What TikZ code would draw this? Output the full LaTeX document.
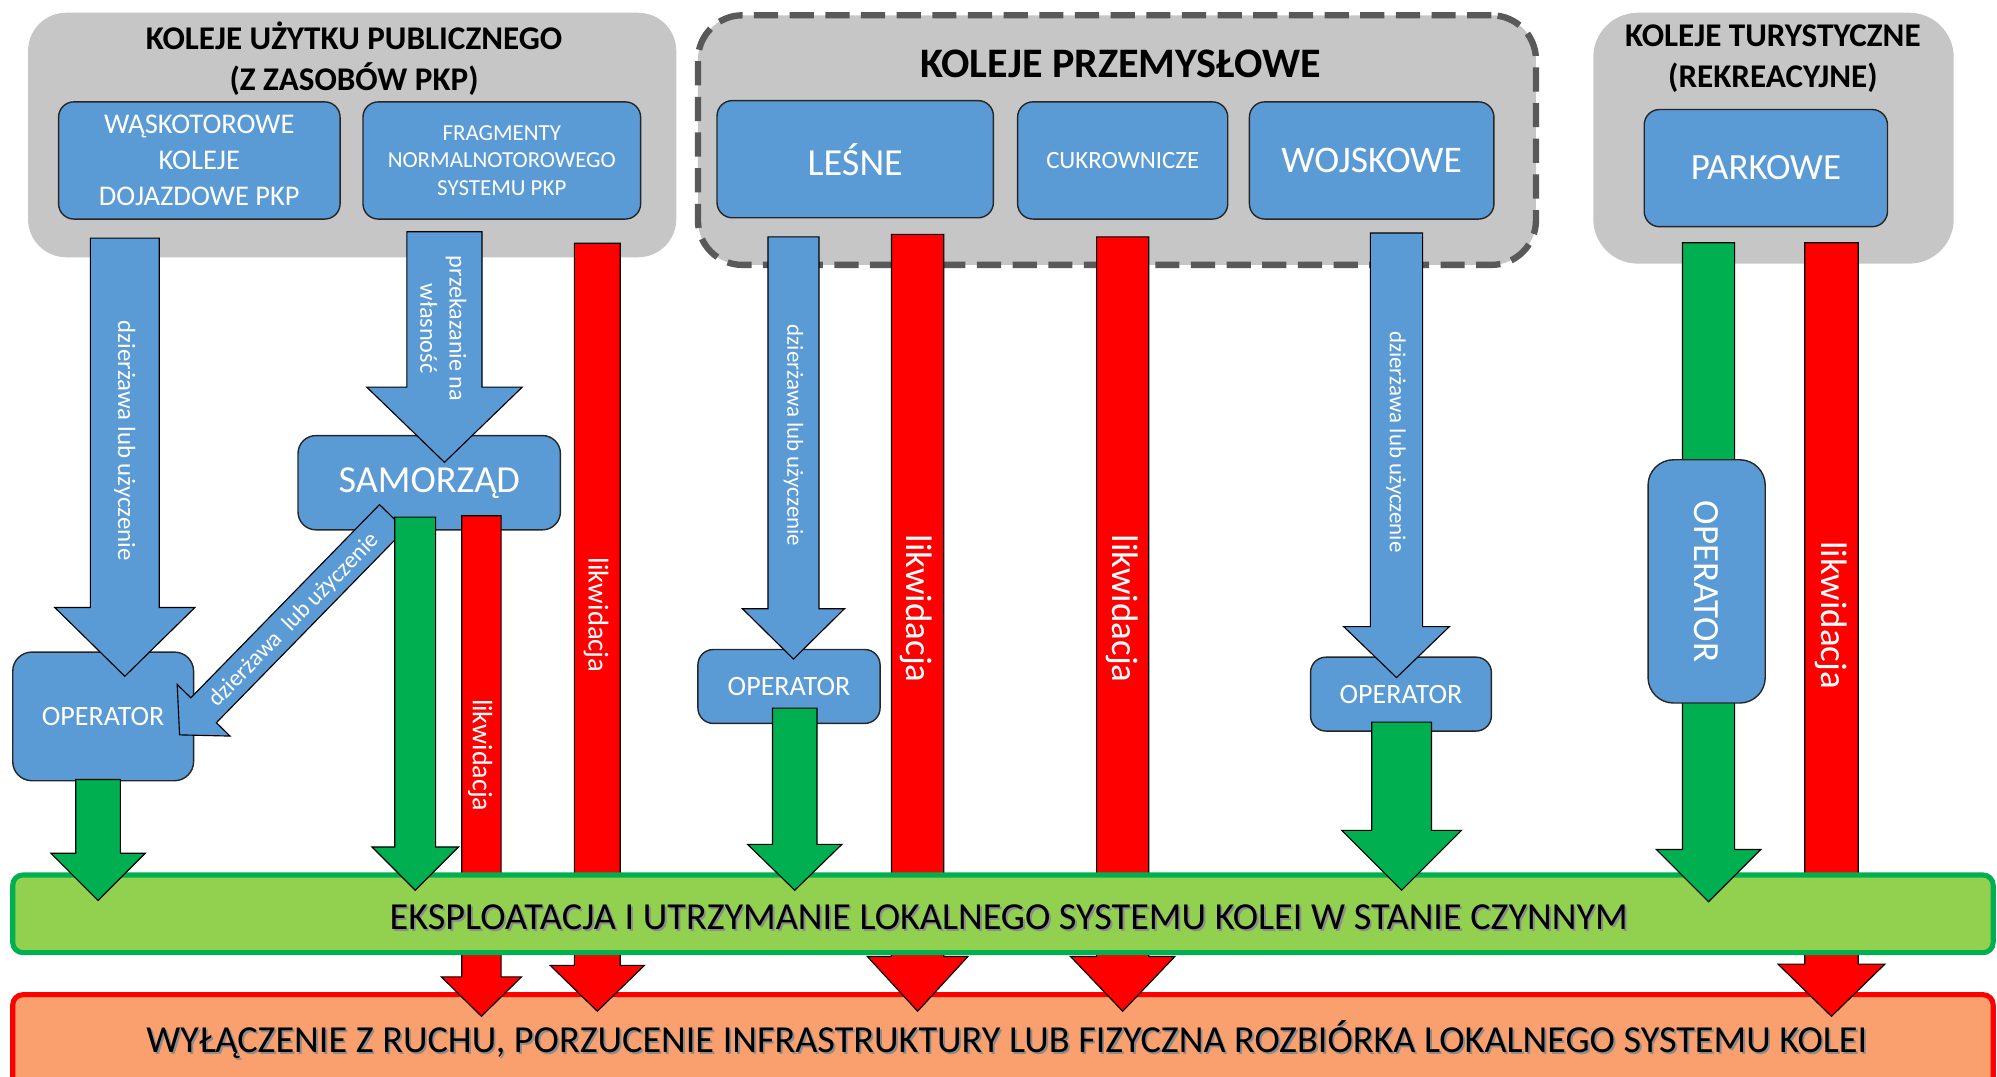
\documentclass[tikz,border=0pt]{standalone}
\usepackage{fontspec}
\setmainfont{Carlito}
\usetikzlibrary{calc}
\definecolor{boxblue}{HTML}{5B9BD5}
\definecolor{groupgray}{HTML}{C6C6C6}
\definecolor{dashgray}{HTML}{595959}
\definecolor{okgreen}{HTML}{00B050}
\definecolor{endred}{HTML}{FF0000}
\definecolor{bargreen}{HTML}{92D050}
\definecolor{barorange}{HTML}{F9A06E}

% block arrow: style, from, to, shaft half width, head half width, head length
\newcommand\bigarrow[6]{%
  \path ($(#3)!#6!(#2)$) coordinate (bh-base);
  \draw[#1] ($(#2)!#4!90:(#3)$) -- ($(bh-base)!#4!-90:(#2)$)
    -- ($(bh-base)!#5!-90:(#2)$) -- (#3) -- ($(bh-base)!#5!90:(#2)$)
    -- ($(bh-base)!#4!90:(#2)$) -- ($(#2)!#4!-90:(#3)$) -- cycle;
}
\newcommand\fs[1]{\fontsize{#1}{1.22\dimexpr#1pt\relax}\selectfont}

\begin{document}
\begin{tikzpicture}[x=1pt,y=-1pt,
  group/.style={fill=groupgray,draw=none,rounded corners=30pt,inner sep=0pt},
  title/.style={align=center,text=black,font=\bfseries\fontsize{26}{32}\selectfont},
  blk/.style={draw=black!85,line width=1.1pt,fill=boxblue,rounded corners=12pt,
    text=white,align=center,inner sep=0pt},
  bluearr/.style={fill=boxblue,draw=black,line width=0.9pt},
  greenarr/.style={fill=okgreen,draw=black,line width=0.9pt},
  redarr/.style={fill=endred,draw=black,line width=0.9pt},
  alabel/.style={text=white,inner sep=0pt,align=center},
  bartxt/.style={inner sep=0pt,font=\fontsize{30}{35}\selectfont}]
\useasboundingbox (0,0) rectangle (1568,845);
\clip (0,0) rectangle (1568,845);

% ---- groups of railways
\node[group,minimum width=509pt,minimum height=192pt] (pub) at (276.5,106) {};
\node[title] (pubT) at (278,46) {KOLEJE UŻYTKU PUBLICZNEGO\\(Z ZASOBÓW PKP)};

\node[group,draw=dashgray,line width=5pt,dash pattern=on 19pt off 9pt,
  rounded corners=35pt,minimum width=658pt,minimum height=196pt] (ind) at (877,110) {};
\node[title,font=\bfseries\fontsize{33}{40}\selectfont] (indT) at (880,50) {KOLEJE PRZEMYSŁOWE};

\node[group,rounded corners=35pt,minimum width=283pt,minimum height=197pt] (tur) at (1392.5,108.5) {};
\node[title] (turT) at (1392,46) {KOLEJE TURYSTYCZNE\\(REKREACYJNE)};

% ---- kinds of railways
\node[blk,minimum width=221pt,minimum height=92pt,font=\fontsize{22.4}{28.5}\selectfont] (wask) at (156.5,126) {WĄSKOTOROWE\\KOLEJE\\DOJAZDOWE PKP};
\node[blk,minimum width=218pt,minimum height=92pt,font=\fontsize{18}{21.8}\selectfont] (frag) at (394,126) {FRAGMENTY\\NORMALNOTOROWEGO\\SYSTEMU PKP};
\node[blk,minimum width=217pt,minimum height=92pt,font=\fs{30}] (lesne) at (671.5,125) {LEŚNE};
\node[blk,minimum width=165pt,minimum height=92pt,font=\fs{19.5}] (cukr) at (881.5,126) {CUKROWNICZE};
\node[blk,minimum width=192pt,minimum height=92pt,font=\fs{29.5}] (wojsk) at (1077,126) {WOJSKOWE};
\node[blk,minimum width=191pt,minimum height=92pt,font=\fs{29}] (park) at (1386.5,132) {PARKOWE};

% ---- intermediate owners and operators
\node[blk,rounded corners=14pt,minimum width=206pt,minimum height=74pt,font=\fs{30}] (samo) at (337,379) {SAMORZĄD};
\node[blk,rounded corners=15pt,minimum width=142pt,minimum height=101pt,font=\fs{22}] (op1) at (81,562.5) {OPERATOR};
\node[blk,minimum width=143pt,minimum height=58pt,font=\fs{22}] (op2) at (619.5,539) {OPERATOR};
\node[blk,minimum width=142pt,minimum height=58pt,font=\fs{22}] (op3) at (1100,545) {OPERATOR};

% ---- final states
\node[draw=endred,line width=4pt,fill=barorange,rounded corners=8pt,
  minimum width=1555pt,minimum height=74pt] (out) at (787.5,818) {};
\node[bartxt,text=black!45] (outS) at (792,817.5) {WYŁĄCZENIE Z RUCHU, PORZUCENIE INFRASTRUKTURY LUB FIZYCZNA ROZBIÓRKA LOKALNEGO SYSTEMU KOLEI};
\node[bartxt] (outT) at (790.5,816) {WYŁĄCZENIE Z RUCHU, PORZUCENIE INFRASTRUKTURY LUB FIZYCZNA ROZBIÓRKA LOKALNEGO SYSTEMU KOLEI};

% ---- liquidation arrows (pass under the green bar)
\coordinate (r1s) at (378,405);    \coordinate (r1e) at (378,798);
\coordinate (r2s) at (469,191);    \coordinate (r2e) at (469,794);
\coordinate (r3s) at (720.5,184);  \coordinate (r3e) at (720.5,794);
\coordinate (r4s) at (881.5,186);  \coordinate (r4e) at (881.5,794);
\coordinate (r5s) at (1438,190.6); \coordinate (r5e) at (1438,798);
\bigarrow{redarr}{r1s}{r1e}{15.5pt}{31.5pt}{31pt}
\bigarrow{redarr}{r2s}{r2e}{18pt}{37pt}{36pt}
\bigarrow{redarr}{r3s}{r3e}{20.5pt}{39.5pt}{43pt}
\bigarrow{redarr}{r4s}{r4e}{20.5pt}{41pt}{43pt}
\bigarrow{redarr}{r5s}{r5e}{21pt}{42pt}{41pt}
\node[alabel,rotate=-90,font=\fs{22}] (r1L) at (377,593) {likwidacja};
\node[alabel,rotate=-90,font=\fs{22.5}] (r2L) at (468,483) {likwidacja};
\node[alabel,rotate=-90,font=\fs{29}] (r3L) at (719.5,478) {likwidacja};
\node[alabel,rotate=-90,font=\fs{29}] (r4L) at (881,478) {likwidacja};
\node[alabel,rotate=-90,font=\fs{29}] (r5L) at (1438,483) {likwidacja};

\node[draw=okgreen,line width=4pt,fill=bargreen,rounded corners=8pt,
  minimum width=1555pt,minimum height=61pt] (keep) at (787.5,717.5) {};
\node[bartxt,text=black!45] (keepS) at (793.5,721.5) {EKSPLOATACJA I UTRZYMANIE LOKALNEGO SYSTEMU KOLEI W STANIE CZYNNYM};
\node[bartxt] (keepT) at (792,720) {EKSPLOATACJA I UTRZYMANIE LOKALNEGO SYSTEMU KOLEI W STANIE CZYNNYM};

% ---- transfers (lease, lending, ownership)
\coordinate (a1s) at (98,187);     \coordinate (a1e) at (98,531);
\coordinate (a2s) at (349,182);    \coordinate (a2e) at (349,363);
\coordinate (a3s) at (623,186);    \coordinate (a3e) at (623,517.5);
\coordinate (a4s) at (1096.5,183); \coordinate (a4e) at (1096.5,532);
\coordinate (ads) at (308,406);    \coordinate (ade) at (141,577);
\bigarrow{bluearr}{a1s}{a1e}{27pt}{55pt}{54pt}
\bigarrow{bluearr}{a2s}{a2e}{29.5pt}{61pt}{59pt}
\bigarrow{bluearr}{a3s}{a3e}{20pt}{40pt}{39.5pt}
\bigarrow{bluearr}{a4s}{a4e}{20.5pt}{41.5pt}{40pt}
\bigarrow{bluearr}{ads}{ade}{14pt}{29pt}{27pt}
\node[alabel,rotate=-90,font=\fs{19.5}] (a1L) at (98,346) {dzierżawa lub użyczenie};
\node[alabel,rotate=-90,font=\fontsize{19}{23}\selectfont] (a2L) at (348,258) {przekazanie na\\własność};
\node[alabel,rotate=-90,font=\fs{18}] (a3L) at (623,342) {dzierżawa lub użyczenie};
\node[alabel,rotate=-90,font=\fs{18}] (a4L) at (1096,347) {dzierżawa lub użyczenie};
\node[alabel,rotate=45.7,font=\fs{18.5}] (adL) at (231,487) {dzierżawa~ lub użyczenie};

% ---- operation arrows
\coordinate (g1s) at (77,612);      \coordinate (g1e) at (77,707);
\coordinate (g2s) at (326,406);     \coordinate (g2e) at (326,699);
\coordinate (g3s) at (624,556);     \coordinate (g3e) at (624,699);
\coordinate (g4s) at (1100.5,567);  \coordinate (g4e) at (1100.5,699);
\coordinate (g5s) at (1341.5,190.6);\coordinate (g5e) at (1341.5,708);
\bigarrow{greenarr}{g1s}{g1e}{17.5pt}{37pt}{37pt}
\bigarrow{greenarr}{g2s}{g2e}{16pt}{34pt}{34pt}
\bigarrow{greenarr}{g3s}{g3e}{17.5pt}{37pt}{36pt}
\bigarrow{greenarr}{g4s}{g4e}{23.5pt}{47pt}{47pt}
\bigarrow{greenarr}{g5s}{g5e}{20.5pt}{41pt}{41pt}

\node[blk,rounded corners=20pt,minimum width=92pt,minimum height=191pt] (op4) at (1340,456.5) {};
\node[alabel,rotate=-90,font=\fs{29}] (op4L) at (op4.center) {OPERATOR};
\end{tikzpicture}
\end{document}
